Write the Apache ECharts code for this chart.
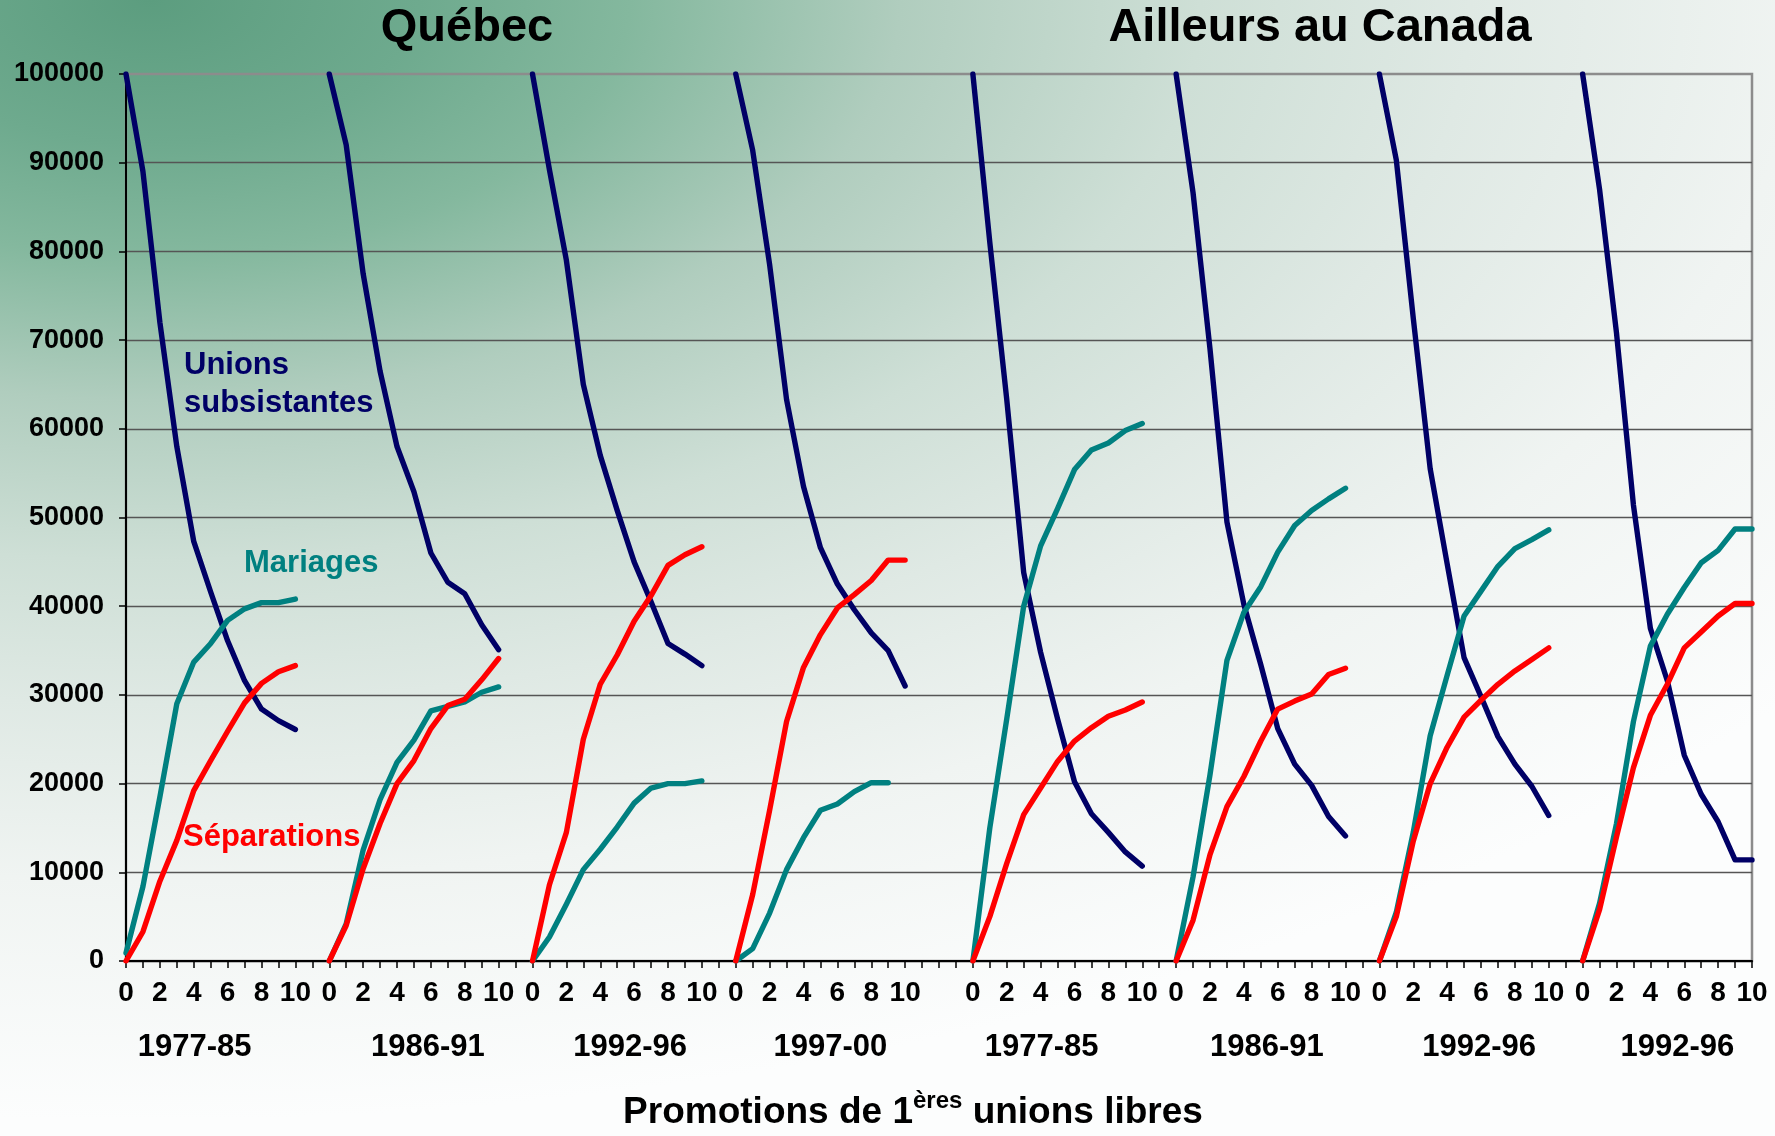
<!DOCTYPE html>
<html>
<head>
<meta charset="utf-8">
<script src="https://cdn.jsdelivr.net/npm/echarts@6/dist/echarts.min.js"></script>
<style>
html, body { margin: 0; padding: 0; width: 1775px; height: 1136px; overflow: hidden; }
body {
  background: radial-gradient(ellipse 1500px 800px at 150px 0px,
    rgb(92,157,127) 0%, rgb(110,170,142) 18%, rgb(132,184,158) 32%,
    rgb(176,205,190) 50%, rgb(206,223,214) 70%, rgb(223,233,228) 88%,
    rgb(240,244,242) 110%, rgb(252,253,253) 140%);
}
#chart { width: 1775px; height: 1136px; }
</style>
</head>
<body>
<div id="chart"></div>
<script>
// ---------------- data ----------------
const regions = ['Québec', 'Ailleurs au Canada'];
const periods = ['1977-85', '1986-91', '1992-96', '1997-00', '1977-85', '1986-91', '1992-96', '1992-96'];
const durations = [0, 1, 2, 3, 4, 5, 6, 7, 8, 9, 10];
const blanksAfter = [1, 1, 1, 3, 1, 1, 1];
const yTicks = [0, 10000, 20000, 30000, 40000, 50000, 60000, 70000, 80000, 90000, 100000];

const unions = [
  [100000, 89000, 72000, 58000, 47300, 41600, 36100, 31600, 28400, 27100, 26100],
  [100000, 92000, 77500, 66500, 58000, 52900, 46000, 42700, 41400, 37900, 35100],
  [100000, 89200, 79000, 65000, 57000, 50800, 45000, 40500, 35800, 34600, 33300],
  [100000, 91400, 78500, 63300, 53500, 46600, 42500, 39600, 37000, 35000, 31000],
  [100000, 81000, 63300, 43800, 34800, 27300, 20200, 16600, 14500, 12300, 10700],
  [100000, 86600, 69000, 49500, 40200, 33400, 26200, 22200, 19800, 16300, 14100],
  [100000, 90300, 72500, 55500, 44800, 34200, 29800, 25300, 22200, 19700, 16400],
  [100000, 87000, 70800, 51400, 37500, 31600, 23200, 18800, 15700, 11400, 11400]
];
const mariages = [
  [900, 8400, 18500, 29000, 33700, 35800, 38400, 39700, 40400, 40400, 40800],
  [0, 4200, 12500, 18200, 22400, 24900, 28200, 28700, 29200, 30300, 30900],
  [0, 2700, 6400, 10300, 12600, 15100, 17800, 19500, 20000, 20000, 20300],
  [0, 1400, 5400, 10300, 13900, 17000, 17700, 19100, 20100, 20100, null],
  [0, 15000, 27300, 40000, 46800, 51000, 55400, 57600, 58400, 59800, 60600],
  [0, 9500, 21000, 33900, 39300, 42200, 46100, 49100, 50800, 52100, 53300],
  [0, 5500, 14500, 25400, 32200, 38900, 41700, 44500, 46500, 47500, 48600],
  [0, 6500, 15500, 27000, 35500, 39100, 42100, 44900, 46300, 48700, 48700]
];
const separations = [
  [0, 3300, 9000, 13600, 19200, 22600, 25900, 29100, 31300, 32600, 33300],
  [0, 4000, 10400, 15500, 20000, 22600, 26200, 28800, 29500, 31700, 34100],
  [0, 8600, 14500, 25000, 31200, 34500, 38300, 41200, 44600, 45800, 46700],
  [0, 7500, 17000, 27000, 33100, 36800, 39800, 41300, 42900, 45200, 45200],
  [0, 5000, 11000, 16500, 19500, 22500, 24800, 26300, 27600, 28300, 29200],
  [0, 4600, 12000, 17400, 20800, 24800, 28400, 29300, 30100, 32300, 33000],
  [0, 5000, 13500, 20000, 24100, 27500, 29400, 31200, 32700, 34000, 35300],
  [0, 5800, 14000, 21800, 27700, 31200, 35300, 37100, 38900, 40300, 40300]
];
const seriesNames = ['Unions subsistantes', 'Mariages', 'Séparations'];
const axisTitle = ['Promotions de 1', 'ères', ' unions libres'];

// ---------------- build category axis and series ----------------
const xLabels = [];
const groupCenterIndex = [];
periods.forEach((p, g) => {
  groupCenterIndex.push(xLabels.length + 5);
  durations.forEach(d => xLabels.push(String(d)));
  if (g < blanksAfter.length) for (let k = 0; k < blanksAfter[g]; k++) xLabels.push('');
});
function flatten(groupsArr) {
  const out = [];
  groupsArr.forEach((arr, g) => {
    arr.forEach(v => out.push(v));
    if (g < blanksAfter.length) for (let k = 0; k < blanksAfter[g]; k++) out.push(null);
  });
  return out;
}

const FONT = "'Liberation Sans', Arial, sans-serif";
const colors = ['#000066', '#008080', '#ff0000'];
const chart = echarts.init(document.getElementById('chart'), null, { renderer: 'canvas' });

const lineSeries = [unions, mariages, separations].map((d, i) => ({
  name: seriesNames[i],
  type: 'line',
  data: flatten(d),
  showSymbol: false,
  symbol: 'none',
  connectNulls: false,
  animation: false,
  lineStyle: { color: colors[i], width: 5.4, cap: 'round', join: 'round' },
  z: 3 + i
}));

chart.setOption({
  backgroundColor: 'transparent',
  animation: false,
  grid: {
    left: 126, right: 23, top: 74, bottom: 175,
    show: true, borderColor: '#8c8c8c', borderWidth: 2.5, backgroundColor: 'transparent'
  },
  xAxis: {
    type: 'category',
    data: xLabels,
    boundaryGap: false,
    axisLine: { show: true, lineStyle: { color: '#000', width: 2 } },
    axisTick: { show: true, interval: 0, length: 7, lineStyle: { color: '#000', width: 1.5 } },
    axisLabel: {
      interval: 0, margin: 18,
      fontFamily: FONT, fontWeight: 'bold', fontSize: 28, color: '#000',
      formatter: v => (v !== '' && Number(v) % 2 === 0) ? v : ''
    },
    splitLine: { show: false }
  },
  yAxis: {
    type: 'value',
    min: yTicks[0], max: yTicks[yTicks.length - 1], interval: yTicks[1] - yTicks[0],
    axisLine: { show: true, lineStyle: { color: '#000', width: 2 } },
    axisTick: { show: true, length: 7, lineStyle: { color: '#000', width: 1.5 } },
    axisLabel: {
      margin: 22, fontFamily: FONT, fontWeight: 'bold', fontSize: 27, color: '#000',
      formatter: v => String(v)
    },
    splitLine: { show: true, showMaxLine: false, lineStyle: { color: '#555', width: 1.3 } }
  },
  series: lineSeries
});

// ---------------- texts ----------------
const periodNudge = [-16, 14, 13, 10, -16, 6, 15, 10];
const graphics = [];
periods.forEach((p, g) => {
  const cx = chart.convertToPixel({ xAxisIndex: 0 }, groupCenterIndex[g]) + periodNudge[g];
  graphics.push({
    type: 'text', x: cx, y: 1047,
    style: { text: p, font: "bold 31px " + FONT, fill: '#000', textAlign: 'center', textVerticalAlign: 'middle' }
  });
});
graphics.push({
  type: 'text', x: 467, y: 28,
  style: { text: regions[0], font: "bold 47px " + FONT, fill: '#000', textAlign: 'center', textVerticalAlign: 'middle' }
});
graphics.push({
  type: 'text', x: 1320, y: 28,
  style: { text: regions[1], font: "bold 47px " + FONT, fill: '#000', textAlign: 'center', textVerticalAlign: 'middle' }
});
graphics.push({
  type: 'text', x: 184, y: 384,
  style: { text: 'Unions\nsubsistantes', font: "bold 31px " + FONT, lineHeight: 38, fill: colors[0], textAlign: 'left', textVerticalAlign: 'middle' }
});
graphics.push({
  type: 'text', x: 244, y: 563,
  style: { text: 'Mariages', font: "bold 31px " + FONT, fill: colors[1], textAlign: 'left', textVerticalAlign: 'middle' }
});
graphics.push({
  type: 'text', x: 183, y: 837,
  style: { text: 'Séparations', font: "bold 31px " + FONT, fill: colors[2], textAlign: 'left', textVerticalAlign: 'middle' }
});
graphics.push({
  type: 'text', x: 913, y: 1110,
  style: {
    text: '{a|' + axisTitle[0] + '}{s|' + axisTitle[1] + '}{a|' + axisTitle[2] + '}',
    textAlign: 'center', textVerticalAlign: 'middle',
    rich: {
      a: { fontFamily: FONT, fontWeight: 'bold', fontSize: 37, color: '#000', lineHeight: 42, verticalAlign: 'bottom' },
      s: { fontFamily: FONT, fontWeight: 'bold', fontSize: 24, color: '#000', lineHeight: 42, verticalAlign: 'top' }
    }
  }
});
chart.setOption({ graphic: graphics });
</script>
</body>
</html>
